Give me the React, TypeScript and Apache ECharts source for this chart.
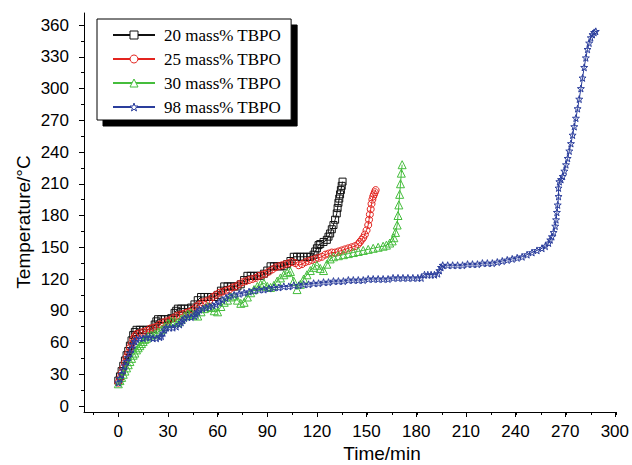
import React, { useEffect, useRef } from 'react';
import * as echarts from 'echarts';

// ---------- data (time in min, temperature in °C) ----------
const seriesNames = ['20 mass% TBPO', '25 mass% TBPO', '30 mass% TBPO', '98 mass% TBPO'];

const tbpo20: [number, number][] = [
  [0, 24], [1, 28], [2, 33], [3, 38], [4, 43], [5, 48], [6, 52], [7, 57], [8, 62], [9, 67], [10, 70], [11, 72],
  [13, 72], [15, 72], [17, 72], [19, 72], [21, 73], [22, 77], [23, 80], [24, 82], [26, 82], [28, 82], [30, 82],
  [32, 83], [34, 88], [35, 90], [36, 92], [38, 92], [40, 92], [42, 92], [44, 93], [46, 96], [48, 100], [50, 103],
  [52, 103], [54, 103], [56, 103], [58, 103], [60, 105], [62, 109], [64, 113], [66, 113], [68, 113], [70, 113],
  [72, 113], [74, 115], [76, 119], [78, 123], [80, 123], [82, 123], [84, 123], [86, 123], [88, 125], [90, 128],
  [92, 132], [94, 132], [96, 132], [98, 132], [100, 132], [102, 134], [104, 137], [106, 141], [108, 141],
  [110, 141], [112, 141], [114, 141], [116, 141], [118, 143], [119, 146], [120, 149], [121, 152], [122, 153],
  [124, 155], [126, 157], [127, 160], [128, 163], [129, 167], [130, 171], [131, 176], [132, 182], [132.5, 187],
  [133, 192], [133.5, 196], [134, 200], [134.5, 204], [135, 208], [135.5, 212],
];

const tbpo25: [number, number][] = [
  [0, 22], [1, 26], [2, 31], [3, 36], [4, 41], [5, 46], [6, 50], [7, 55], [8, 59], [9, 63], [10, 66], [11, 68],
  [13, 69], [15, 70], [17, 71], [19, 73], [21, 74], [23, 75], [25, 77], [27, 79], [29, 80], [31, 81], [33, 83],
  [35, 85], [37, 86], [39, 87], [41, 88], [43, 89], [45, 91], [47, 94], [49, 96], [51, 98], [53, 99], [55, 100],
  [57, 103], [59, 105], [61, 107], [63, 108], [65, 109], [67, 110], [69, 112], [71, 113], [73, 115], [75, 117],
  [77, 118], [79, 119], [81, 120], [83, 121], [85, 123], [87, 124], [89, 125], [91, 127], [93, 129], [95, 131],
  [97, 132], [99, 133], [101, 134], [103, 135], [105, 136], [107, 135], [109, 133], [111, 134], [113, 136],
  [115, 137], [117, 138], [119, 139], [121, 140], [123, 141], [125, 143], [127, 144], [129, 145], [131, 145],
  [133, 146], [135, 147], [137, 148], [139, 149], [141, 150], [143, 151], [145, 153], [146, 155], [147, 157],
  [148, 159], [149, 162], [150, 166], [151, 171], [151.5, 176], [152, 181], [152.5, 186], [153, 191],
  [153.5, 195], [154, 198], [154.5, 200], [155, 202], [155.5, 204],
];

const tbpo30: [number, number][] = [
  [0, 21], [1, 24], [2, 27], [3, 30], [4, 33], [5, 36], [6, 39], [7, 42], [8, 45], [9, 48], [10, 50], [11, 53],
  [12, 55], [13, 57], [14, 59], [15, 61], [16, 63], [17, 64], [18, 66], [20, 67], [22, 68], [24, 70], [26, 72],
  [28, 75], [30, 78], [32, 80], [34, 80], [36, 79], [38, 82], [40, 85], [42, 87], [44, 88], [46, 86], [48, 85],
  [50, 89], [52, 92], [54, 94], [56, 93], [58, 90], [60, 89], [62, 94], [64, 98], [66, 100], [68, 103], [70, 104],
  [72, 100], [74, 97], [76, 98], [78, 103], [80, 107], [82, 110], [84, 113], [86, 115], [88, 116], [90, 113],
  [92, 112], [94, 114], [96, 118], [98, 121], [100, 124], [102, 126], [104, 127], [106, 118], [108, 110],
  [110, 115], [112, 120], [114, 124], [116, 128], [118, 131], [120, 133], [122, 130], [124, 128], [126, 134],
  [128, 139], [130, 141], [133, 142], [136, 143], [139, 144], [142, 145], [145, 146], [148, 147], [151, 148],
  [154, 149], [157, 150], [160, 151], [162, 152], [164, 154], [165.5, 156], [166.5, 159], [167.5, 164],
  [168.5, 171], [169, 180], [169.5, 190], [170, 200], [170.5, 210], [171, 220], [171.5, 228],
];

const tbpo98: [number, number][] = [
  [0, 22], [1, 26], [2, 30], [3, 34], [4, 38], [5, 42], [6, 46], [7, 50], [8, 54], [9, 58], [10, 61], [11, 63],
  [13, 64], [15, 64], [17, 65], [19, 65], [21, 64], [23, 64], [25, 65], [26, 66], [27, 69], [28, 72], [29, 74],
  [31, 74], [33, 74], [35, 75], [37, 77], [38, 79], [39, 81], [40, 83], [42, 84], [44, 84], [46, 85], [47, 87],
  [48, 89], [49, 91], [51, 92], [53, 93], [55, 94], [57, 95], [59, 96], [61, 98], [63, 100], [65, 102], [67, 104],
  [70, 105], [73, 106], [76, 107], [79, 108], [82, 109], [85, 110], [88, 110], [91, 111], [94, 112], [97, 112],
  [100, 113], [103, 113], [106, 114], [109, 114], [112, 115], [115, 115], [118, 116], [121, 116], [124, 117],
  [127, 117], [130, 118], [133, 118], [136, 118], [139, 119], [142, 119], [145, 119], [148, 119], [151, 120],
  [154, 120], [157, 120], [160, 120], [163, 120], [166, 121], [169, 121], [172, 121], [175, 121], [178, 121],
  [181, 121], [183, 121], [185, 124], [187, 124], [189, 124], [191, 124], [193, 125], [194, 128], [195, 131],
  [196, 133], [199, 133], [202, 133], [205, 133], [208, 133], [211, 134], [214, 134], [217, 134], [220, 135],
  [223, 135], [226, 135], [229, 136], [232, 137], [235, 138], [238, 139], [241, 140], [244, 141], [247, 143],
  [250, 145], [253, 147], [256, 149], [258, 151], [260, 154], [261, 157], [262, 160], [263, 164], [264, 170],
  [264.5, 176], [265, 183], [265.5, 190], [266, 198], [266, 206], [266.5, 212], [267.5, 214], [268.5, 217],
  [269.5, 222], [270.5, 228], [271.5, 234], [272.5, 241], [273.5, 248], [274.5, 256], [275.5, 264],
  [276.5, 272], [277.5, 281], [278.5, 290], [279.5, 300], [280.5, 310], [281.5, 320], [282.5, 329],
  [283.5, 337], [284.5, 343], [285.5, 348], [286.5, 351], [287.5, 353], [288.5, 354],
];

const X_MIN = 0, X_MAX = 300, X_STEP = 30, X_MINOR_START = -15, X_MINOR_STEP = 15;
const Y_MIN = 0, Y_MAX = 360, Y_STEP = 30;
const xTitle = 'Time/min';
const yTitle = 'Temperature/°C';

const colors = ['#111111', '#e3241f', '#45bd3c', '#2a3d9c'];
const STAR = 'path://M0,-10 L2.35,-3.24 L9.51,-3.09 L3.8,1.24 L5.88,8.09 L0,4 L-5.88,8.09 L-3.8,1.24 L-9.51,-3.09 L-2.35,-3.24 Z';
const symbols = ['rect', 'circle', 'triangle', STAR];
const symbolSizes = [7, 7, 8, 7];
const datasets = [tbpo20, tbpo25, tbpo30, tbpo98];

const SANS = '"Liberation Sans", Arial, sans-serif';
const SERIF = '"Liberation Serif", "Times New Roman", serif';

export default function App() {
  const ref = useRef<HTMLDivElement>(null);
  useEffect(() => {
    document.body.style.margin = '0';
    if (!ref.current) return;
    const chart = echarts.init(ref.current, null, { renderer: 'svg' });
    const black = { color: '#000', width: 1 };
    const option: any = {
      animation: false,
      backgroundColor: '#fff',
      textStyle: { fontFamily: SANS },
      grid: [
        { left: 84, right: 16, top: 13, bottom: 53 },
        { left: 118.3, right: 16, top: 25, bottom: 59 },
        { left: 93.4, right: 16, top: 25, bottom: 59 },
      ],
      xAxis: [
        {
          gridIndex: 0, type: 'value', min: -20, max: 300,
          axisLine: { show: true, onZero: false, lineStyle: black },
          axisTick: { show: false }, axisLabel: { show: false }, splitLine: { show: false },
        },
        {
          gridIndex: 1, type: 'value', min: X_MIN, max: X_MAX, interval: X_STEP, offset: 6,
          axisLine: { show: false, onZero: false },
          axisTick: { show: true, length: 5, lineStyle: black },
          axisLabel: { color: '#000', fontSize: 17, margin: 11, fontFamily: SANS },
          splitLine: { show: false },
        },
        {
          gridIndex: 2, type: 'value', min: X_MINOR_START, max: X_MAX, interval: X_MINOR_STEP, offset: 6,
          axisLine: { show: false, onZero: false },
          axisTick: { show: true, length: 3, lineStyle: black },
          axisLabel: { show: false }, splitLine: { show: false },
        },
      ],
      yAxis: [
        {
          gridIndex: 0, type: 'value', min: -6, max: 371,
          axisLine: { show: true, onZero: false, lineStyle: black },
          axisTick: { show: false }, axisLabel: { show: false }, splitLine: { show: false },
        },
        {
          gridIndex: 1, type: 'value', min: Y_MIN, max: Y_MAX, interval: Y_STEP, offset: 34.3,
          axisLine: { show: false, onZero: false },
          axisTick: { show: true, length: 5, lineStyle: black },
          minorTick: { show: true, splitNumber: 2, length: 3, lineStyle: black },
          axisLabel: { color: '#000', fontSize: 17, margin: 15, fontFamily: SANS },
          splitLine: { show: false },
        },
        {
          gridIndex: 2, type: 'value', min: Y_MIN, max: Y_MAX, show: false,
        },
      ],
      legend: {
        orient: 'vertical', left: 97, top: 19,
        padding: [7, 10, 4, 15], itemGap: 6, itemWidth: 42, itemHeight: 10,
        backgroundColor: '#fff', borderColor: '#000', borderWidth: 1,
        shadowColor: '#000', shadowBlur: 0, shadowOffsetX: 6, shadowOffsetY: 6,
        textStyle: { fontFamily: SERIF, fontSize: 17, color: '#000', lineHeight: 18, padding: [0, 0, 0, 4] },
        itemStyle: { color: '#fff', borderWidth: 1 },
        data: seriesNames,
      },
      graphic: [
        {
          type: 'text', x: 382, y: 453,
          style: { text: xTitle, fontSize: 19, fontFamily: SANS, fill: '#000', align: 'center', verticalAlign: 'middle' },
        },
        {
          type: 'text', x: 23, y: 222, rotation: Math.PI / 2,
          style: { text: yTitle, fontSize: 19, fontFamily: SANS, fill: '#000', align: 'center', verticalAlign: 'middle' },
        },
      ],
      series: datasets.map((d, i) => ({
        name: seriesNames[i],
        type: 'line',
        xAxisIndex: 1, yAxisIndex: 1,
        data: d,
        symbol: symbols[i],
        symbolSize: symbolSizes[i],
        showAllSymbol: true,
        clip: false,
        lineStyle: { color: colors[i], width: 1 },
        itemStyle: { color: 'transparent', borderColor: colors[i], borderWidth: 1 },
        emphasis: { disabled: true },
      })),
    };
    chart.setOption(option);
    return () => chart.dispose();
  }, []);
  return <div ref={ref} style={{ width: 632, height: 465 }} />;
}
